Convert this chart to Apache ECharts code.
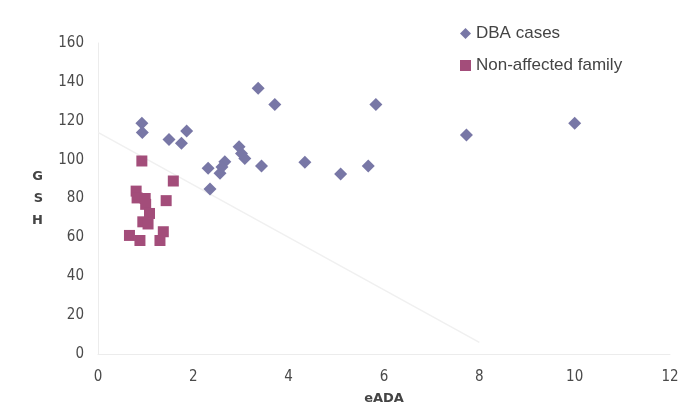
<!DOCTYPE html>
<html><head><meta charset="utf-8">
<script src="https://cdn.jsdelivr.net/npm/echarts@6/dist/echarts.min.js"></script>
<style>html,body{margin:0;padding:0;background:#fff}#c{width:687px;height:414px}</style>
</head><body><div id="c"></div>
<script>
const dbaX = [0.92,0.93,1.49,1.86,1.75,2.31,2.35,2.56,2.66,2.60,2.96,3.01,3.08,3.36,3.43,3.71,4.34,5.09,5.67,5.83,7.73,10.0];
const dbaY = [118.7,114.0,110.4,114.7,108.4,95.5,84.9,93.0,98.9,96.2,106.6,103.2,100.6,136.7,96.7,128.4,98.6,92.6,96.7,128.4,112.7,118.7];
const famX = [0.92,1.58,0.80,0.82,0.99,1.00,1.43,1.08,0.94,1.05,0.66,0.88,1.37,1.30];
const famY = [99.3,89.0,83.8,80.3,80.0,77.0,78.9,72.3,68.0,66.9,61.0,58.4,62.9,58.4];
const trendX = [0, 8];
const trendY = [114, 6];
const xTicks = [0,2,4,6,8,10,12];
const yTicks = [0,20,40,60,80,100,120,140,160];

const zip = (a,b) => a.map((v,i)=>[v,b[i]]);
const font = "'Liberation Sans Narrow','DejaVu Sans Condensed','Liberation Sans',sans-serif";
const chart = echarts.init(document.getElementById('c'));
chart.setOption({
  animation:false,
  backgroundColor:'#fff',
  grid:{left:98,right:17,top:43,bottom:60},
  legend:{
    data:['DBA cases','Non-affected family'],
    orient:'vertical', left:455, top:20, itemGap:15,
    itemWidth:11, itemHeight:11,
    textStyle:{fontSize:17,color:'#444',padding:[0,0,0,0],fontFamily:"'Liberation Sans',sans-serif"}
  },
  xAxis:{
    type:'value', min:xTicks[0], max:xTicks[xTicks.length-1], interval:2,
    name:'eADA', nameLocation:'middle', nameGap:38,
    nameTextStyle:{fontSize:13,fontWeight:'bold',color:'#444',fontFamily:"'DejaVu Sans',sans-serif"},
    axisLine:{show:true,lineStyle:{color:'#ececec'}},
    axisTick:{show:false}, splitLine:{show:false},
    axisLabel:{fontSize:15,color:'#4a4a4a',margin:16,fontFamily:font}
  },
  yAxis:{
    type:'value', min:yTicks[0], max:yTicks[yTicks.length-1], interval:20,
    name:'G\nS\nH', nameLocation:'middle', nameRotate:0, nameGap:55,
    nameTextStyle:{fontSize:13,fontWeight:'bold',color:'#444',lineHeight:22,fontFamily:"'DejaVu Sans',sans-serif"},
    axisLine:{show:true,lineStyle:{color:'#ececec'}},
    axisTick:{show:false}, splitLine:{show:false},
    axisLabel:{fontSize:15,color:'#4a4a4a',margin:14,fontFamily:font}
  },
  series:[
    {name:'trend',type:'line',data:zip(trendX,trendY),symbol:'none',silent:true,
     lineStyle:{color:'#f0f0f0',width:1.5},z:1},
    {name:'DBA cases',type:'scatter',data:zip(dbaX,dbaY),symbol:'diamond',symbolSize:13,
     itemStyle:{color:'#7877a6',opacity:1},z:3},
    {name:'Non-affected family',type:'scatter',data:zip(famX,famY),symbol:'rect',symbolSize:11,
     itemStyle:{color:'#a34d7a',opacity:1},z:2}
  ]
});
</script></body></html>
